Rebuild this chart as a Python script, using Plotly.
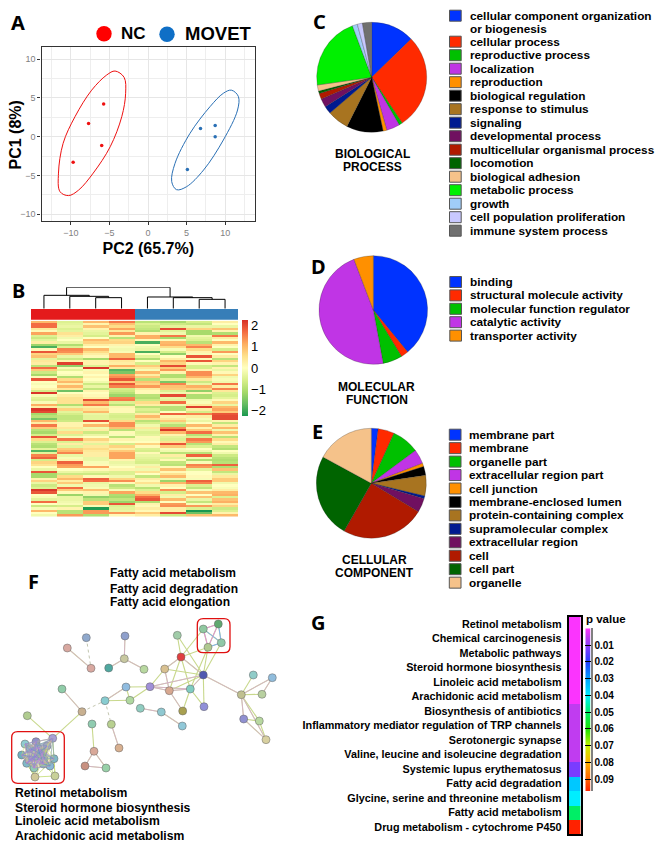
import plotly.graph_objects as go

W, H = 661, 847
FONT = "Liberation Sans"

# ---------- Panel A data ----------
NC_X = [-9.7, -7.7, -6.0, -5.75]
NC_Y = [-3.3, 1.7, -1.15, 4.2]
MOVET_X = [5.1, 6.8, 8.7, 8.7]
MOVET_Y = [-4.25, 1.05, 1.45, 0.0]
NC_ELL_X = [-4.27, -3.1, -2.9, -3.4, -4.9, -7.1, -9.0, -10.3, -11.4, -11.6, -11.0, -9.46, -7.3, -5.35, -4.27]
NC_ELL_Y = [8.47, 7.66, 5.6, 2.58, -1.3, -4.7, -6.9, -7.6, -7.1, -4.7, -0.86, 2.58, 6.0, 7.96, 8.47]
MV_ELL_X = [10.8, 11.7, 11.6, 9.76, 7.2, 5.0, 3.7, 3.07, 3.5, 5.44, 8.03, 9.76, 10.8]
MV_ELL_Y = [6.0, 5.2, 3.44, -0.43, -4.3, -6.45, -6.84, -5.8, -3.44, 0.43, 3.87, 5.6, 6.0]

# ---------- Panel B data: one list per sample column, rows top to bottom ----------
HM1 = [1.0,1.7,1.7,0.4,0.1,1.2,-0.5,-0.7,-0.4,0.3,-1.2,-1.9,0.1,1.9,0.7,0.9,-0.4,0.4,0.3,-0.9,1.7,0.8,-0.7,-1.1,0.1,1.9,0.0,-0.1,0.0,0.2,-0.6,2.2,-0.1,-0.4,-0.5,-0.1,1.1,0.3,2.2,2.0,-1.1,-0.9,-1.5,
       1.0,0.3,1.6,0.8,-0.9,-1.1,-0.6,1.9,0.6,-0.5,-0.9,-1.0,-0.4,-1.8,-0.4,1.5,1.8,-0.6,0.7,0.5,0.0,-0.3,1.9,-1.1,-1.1,0.2,0.7,-0.3,-0.7,-0.5,2.2,1.9,0.0,-0.1,-0.4,1.7,0.0,-0.7,-0.1,1.0,0.0,-0.2]
HM2 = [-0.5,-0.4,-0.3,-0.5,-0.4,0.5,0.3,-0.2,0.0,-0.3,-1.0,-0.5,1.5,1.4,0.8,-0.3,-0.7,0.2,2.1,-1.3,-0.1,-0.4,0.0,-0.1,-1.0,0.6,1.0,0.3,1.0,0.4,-1.6,0.0,0.3,0.5,0.5,0.5,-1.0,-0.3,0.7,-0.4,-0.6,-0.8,-0.8,
       -0.7,0.2,0.2,0.4,-0.3,0.6,-0.5,-0.1,1.6,-0.5,0.3,-0.4,0.8,1.0,1.5,-0.3,-0.1,0.2,1.8,1.3,1.2,0.0,-0.3,-0.7,0.6,1.0,0.3,0.8,-0.2,1.7,0.8,0.1,-1.2,-0.3,-0.3,-0.2,-0.1,-0.6,0.2,-0.9,-0.9,1.3]
HM3 = [1.0,0.2,0.9,0.2,-0.3,-0.4,-0.6,0.0,1.0,0.7,0.3,0.0,1.0,0.6,0.3,0.1,-1.1,0.2,0.2,-0.5,2.2,-0.1,0.2,0.0,0.2,0.0,-0.2,-0.7,-0.3,-0.8,0.2,0.0,0.1,0.3,2.0,1.0,1.6,0.3,0.5,1.0,-0.3,-0.4,-0.4,
       2.0,0.1,1.0,-0.2,0.3,-0.7,-0.3,0.0,0.7,0.3,-0.4,0.4,0.6,0.4,0.3,0.3,-0.3,-0.3,-0.1,0.1,1.2,0.1,-0.4,-0.7,0.1,1.8,1.7,-0.3,-0.2,-0.1,0.9,0.2,-0.2,-1.3,-0.9,0.8,0.8,-0.1,-2.2,1.3,1.3,-1.0]
HM4 = [1.6,0.9,0.6,1.2,0.4,1.3,0.2,-0.9,0.6,0.7,0.2,-0.1,-0.2,-0.1,1.0,1.0,1.8,0.4,0.3,1.1,0.4,-1.8,-1.5,1.2,1.4,1.9,0.8,1.9,1.5,-0.6,-0.7,-0.9,-1.2,1.5,1.6,-0.5,-0.9,0.2,0.1,0.1,-0.5,-0.6,-0.5,
       0.6,1.4,1.4,0.9,-0.9,0.1,-0.1,-0.9,0.2,0.0,-0.6,0.7,0.3,0.8,1.2,1.2,1.2,0.2,-0.3,-0.2,0.0,0.2,-0.5,-0.5,-0.2,0.7,1.4,0.1,-0.9,-0.7,-0.1,1.2,-1.0,-1.1,-0.8,-1.2,1.9,-0.5,-0.4,-0.3,1.3,0.1]
HM5 = [-0.9,-0.5,-0.7,-0.8,-1.0,0.2,1.1,1.1,0.1,-1.9,0.0,-0.2,-0.3,-1.9,0.0,-0.4,-1.0,0.0,-0.6,0.8,0.4,-0.1,1.0,0.3,0.8,-0.9,0.9,0.7,1.3,0.3,0.1,0.1,-0.9,-1.0,-0.7,0.6,0.3,-0.9,-0.5,-0.7,0.3,1.0,0.5,
       -0.9,-0.6,-0.2,0.4,-0.3,-0.5,-0.4,0.1,-0.1,0.0,0.7,0.1,-0.5,-0.6,0.1,-0.3,-0.4,-0.5,-0.6,-0.2,0.3,-0.2,0.5,0.0,-0.8,0.3,0.1,0.5,-0.2,-0.9,-0.5,0.6,1.1,1.7,1.9,-1.0,0.2,0.1,0.3,0.1,0.8,0.3]
HM6 = [-1.1,-0.7,-0.4,2.0,-0.4,-0.2,1.6,-1.1,0.1,1.0,1.1,0.6,-0.1,-0.6,-1.3,0.0,0.3,1.0,0.7,2.0,0.8,1.3,0.2,-1.0,-1.0,-0.4,-1.5,1.5,0.9,0.8,-0.5,-0.2,2.0,-0.3,-0.4,1.7,-0.2,-0.9,-0.9,0.0,1.8,0.2,0.4,
       0.8,-0.5,-0.9,1.4,2.2,1.0,0.2,-0.4,-0.5,0.5,1.9,0.8,-0.1,-0.2,-0.9,0.3,-0.4,0.1,-0.8,-0.9,0.1,0.9,0.1,0.5,1.0,-0.2,-1.2,1.0,0.2,0.0,1.4,-0.6,0.3,-0.2,1.0,0.0,1.3,1.4,0.3,0.3,2.0,-0.7]
HM7 = [-0.6,-0.8,-0.3,0.7,-1.1,-1.1,-0.2,-0.4,-0.5,-0.9,1.0,1.5,0.6,0.2,-0.1,1.9,0.1,1.9,0.1,-0.6,-0.6,0.2,1.4,1.4,1.0,0.4,-0.7,-0.3,1.1,0.7,-1.3,0.2,-1.0,-1.0,-0.2,-0.1,0.4,2.1,0.3,-0.6,1.5,0.3,-0.1,
       -0.3,0.0,1.0,0.2,0.8,1.7,-0.9,-0.5,1.6,1.3,-0.9,-0.5,0.0,-0.2,-0.9,1.8,-0.2,-1.0,-0.1,1.5,1.3,-0.4,0.0,0.0,0.1,-0.1,1.8,1.5,-0.5,-0.8,-0.1,0.9,0.0,0.9,-0.3,-0.8,-0.1,1.3,-0.5,-2.3,-1.6,0.9]
HM8 = [0.3,0.0,-0.3,0.9,0.2,-1.0,1.6,0.3,0.0,1.0,0.2,0.0,-0.6,1.3,0.0,0.3,-0.9,0.7,0.2,-0.8,0.2,-0.3,0.1,0.7,-0.2,-0.1,-0.2,1.6,0.3,1.5,0.4,-0.5,-0.6,-0.4,0.1,0.7,-0.3,1.0,1.2,0.8,1.9,2.0,2.0,
       0.2,-0.8,0.3,1.0,-0.2,0.9,0.2,-0.9,0.6,0.1,0.3,-0.8,-1.0,0.0,-0.2,-0.7,-0.9,-1.0,-0.9,1.8,-1.0,0.9,-0.8,-0.3,0.4,0.8,0.8,-0.2,0.0,-0.1,0.3,1.0,1.1,-0.5,0.9,1.1,0.3,0.7,-0.7,-0.5,0.2,1.0]
HM_GROUP = [0, 0, 0, 0, 1, 1, 1, 1]
HM_COLORS = ["#E41A1C", "#377EB8"]
HM_TICKS = [-2, -1, 0, 1, 2]
HM_SCALE = ["#1a9850", "#66bd63", "#a6d96a", "#d9ef8b", "#ffffbf", "#fee08b", "#fdae61", "#f46d43", "#d73027"]
# dendrogram merges: left child, right child, merge height (child ids: 1-8 leaves, 9+ earlier merges)
DEND_LEFT = [3, 2, 1, 7, 6, 5, 11]
DEND_RIGHT = [4, 9, 10, 8, 12, 13, 14]
DEND_HEIGHT = [33, 37, 40, 28, 33, 35, 64]

# ---------- Panels C / D / E data ----------
BP_LABELS = ["cellular component organization", "cellular process", "reproductive process", "localization",
             "reproduction", "biological regulation", "response to stimulus", "signaling", "developmental process",
             "multicellular organismal process", "locomotion", "biological adhesion", "metabolic process", "growth",
             "cell population proliferation", "immune system process"]
BP_VALUES = [12.7, 27.9, 1.0, 3.9, 1.1, 10.75, 6.3, 2.3, 2.5, 1.7, 0.7, 1.8, 21.5, 1.5, 1.5, 2.7]
BP_COLORS = ["#0033ff", "#ff2a00", "#00c000", "#c035e5", "#ff9000", "#000000", "#a87420", "#001a90", "#701060",
             "#b01a00", "#006400", "#f5c28a", "#00f000", "#a0cdf8", "#c8c8ff", "#707070"]
MF_LABELS = ["binding", "structural molecule activity", "molecular function regulator", "catalytic activity",
             "transporter activity"]
MF_VALUES = [39.1, 2.2, 5.8, 47.1, 5.8]
MF_COLORS = ["#0033ff", "#ff2a00", "#00c000", "#c035e5", "#ff9000"]
CC_LABELS = ["membrane part", "membrane", "organelle part", "extracellular region part", "cell junction",
             "membrane-enclosed lumen", "protein-containing complex", "supramolecular complex", "extracellular region",
             "cell", "cell part", "organelle"]
CC_VALUES = [2.0, 4.75, 8.05, 4.2, 1.0, 2.6, 6.0, 0.8, 4.1, 24.5, 24.6, 17.0]
CC_COLORS = ["#0033ff", "#ff2a00", "#00c000", "#c035e5", "#ff9000", "#000000", "#a87420", "#001a90", "#701060",
             "#b01a00", "#006400", "#f5c28a"]

# ---------- Panel F data ----------
NODE_X = [86.3,125,67.3,91,124.3,108.7,144,62,82,105,126,130,150,164.7,169.3,190.3,181,177.3,203.3,204,182.7,140.3,161.3,182.3,
          27.3,92,111.3,119,94,85,106,241.3,253.3,272.3,262,243.7,259.3,266,203.3,218.3,221.3,208,
          52.7,25,36,21.7,42.7,26.7,35,54,43.3,35,55,
          30,47,38,29,50,34,44,40]
NODE_Y = [77.7,76,88,108.3,98.7,108,109.3,129,151.7,140.7,127,140.3,126.7,109,130.7,129,97,75.3,115,146.7,151,148.3,152,166,
          155.7,164,164.3,188,191.3,206,208,134.7,115,117.7,134.3,159,161,179.7,69,64,82.7,87.3,
          178.3,184,181.7,195,192.7,203.3,196.7,198.7,204,217,216,
          189,186,188,200,206,208,199,194]
NODE_COLORS = ["#8fa8cc","#8fa0cc","#d8a8a0","#d8a8a0","#c8c8a0","#50a8a0","#b8d8a0","#90cca8","#c8b090","#88ccd0","#90bce0","#b0d8a0",
               "#a090d8","#d8c090","#d8a890","#80ccc0","#e04040","#a0cca8","#5058b0","#9090d8","#a8a050","#90ccc0","#90c8d0","#90c8d8",
               "#b0cc90","#90ccb0","#b8d090","#d8b090","#d8a898","#c89080","#98d0a8","#c0c090","#90ccc8","#90bcdc","#b8d0a0","#9090d0",
               "#b8d8a0","#d8d0a0","#90c8a0","#60a870","#90c8a8","#b0c890","#a8a0d8","#90ccd0","#9090c8","#70b0c0","#a0cc90","#80b8c8",
               "#90b0d0","#80b8c8","#80b0c8","#d0c898","#c8d098",
               "#80c0d0","#90a8d8","#a0b0d8","#88c0c0","#88b8d8","#90c8b8","#98b0d0","#a0c8a8"]
EDGES_SOLID = [(2,3),(1,4),(4,5),(4,6),(7,8),(8,42),(24,42),(9,10),(9,11),(10,11),(10,12),(11,12),(12,13),(12,14),(12,15),(12,18),
               (13,16),(13,18),(13,14),(14,16),(14,15),(14,18),(14,20),(15,16),(15,18),(15,20),(16,17),(16,18),(16,38),(16,41),
               (17,18),(18,19),(18,41),(18,40),(18,31),(15,41),(21,22),(22,23),(26,27),(28,29),(28,30),(29,30),(31,32),(31,33),
               (31,34),(33,34),(31,35),(31,36),(31,37),(35,36),(36,37),(35,37),(25,28),(15,19)]
EDGES_PINK = [(2,3),(1,4),(4,5),(4,6),(7,8),(9,10),(12,14),(12,15),(12,18),(13,14),(14,15),(14,20),(16,18),(16,13),(18,15),(18,31),
              (21,22),(22,23),(26,27),(28,29),(28,30),(29,30),(31,35),(31,37),(35,37),(31,33),(33,34)]
EDGES_DASHED = [(0,3),(8,9),(9,26)]
CLUSTER_UP = [38, 39, 40, 41]
CLUSTER_LOW = [42, 43, 44, 45, 46, 47, 48, 49, 50, 53, 54, 55, 56, 57, 58, 59, 60]
CLUSTER_LOW_RIM = [(51, 42), (51, 43), (51, 44), (51, 45), (51, 47), (51, 49), (51, 52), (52, 42), (52, 49), (52, 50), (52, 46)]
F_LABELS_TOP = ["Fatty acid metabolism", "Fatty acid degradation", "Fatty acid elongation"]
F_LABELS_BOTTOM = ["Retinol metabolism", "Steroid hormone biosynthesis", "Linoleic acid metabolism", "Arachidonic acid metabolism"]

# ---------- Panel G data ----------
PATHWAYS = ["Retinol metabolism", "Chemical carcinogenesis", "Metabolic pathways", "Steroid hormone biosynthesis",
            "Linoleic acid metabolism", "Arachidonic acid metabolism", "Biosynthesis of antibiotics",
            "Inflammatory mediator regulation of TRP channels", "Serotonergic synapse",
            "Valine, leucine and isoleucine degradation", "Systemic lupus erythematosus", "Fatty acid degradation",
            "Glycine, serine and threonine metabolism", "Fatty acid metabolism", "Drug metabolism - cytochrome P450"]
P_VALUES = [0.0003, 0.0003, 0.0003, 0.0003, 0.0003, 0.0003, 0.005, 0.005, 0.005, 0.005, 0.012, 0.035, 0.04, 0.05, 0.097]
P_LEVELS = [0.0, 0.005, 0.012, 0.02, 0.03, 0.035, 0.04, 0.05, 0.06, 0.07, 0.08, 0.09, 0.097]
P_COLORS = ["#ff33ff", "#c03cf0", "#7a3cff", "#2040ff", "#00a0ff", "#00c8ff", "#00eeff", "#00ee66", "#20e000", "#c8f000",
            "#ffb000", "#ff6000", "#ff2200"]
P_TICKS = [0.01, 0.02, 0.03, 0.04, 0.05, 0.06, 0.07, 0.08, 0.09]

# ---------- helpers ----------
fig = go.Figure()


def px(x):
    return x / W


def py(y):
    return 1 - y / H


def axes(n, x0, x1, y0, y1, xkw=None, ykw=None):
    blank = dict(visible=False, fixedrange=True)
    k = "" if n == 1 else str(n)
    xa = dict(blank, domain=[px(x0), px(x1)], anchor="y" + k)
    ya = dict(blank, domain=[py(y1), py(y0)], anchor="x" + k)
    xa.update(xkw or {})
    ya.update(ykw or {})
    fig.layout["xaxis" + k] = xa
    fig.layout["yaxis" + k] = ya
    return dict(xaxis="x" + k, yaxis="y" + k)


annotations, shapes = [], []


def label(x, y, text, size=11.8, bold=True, xanchor="left", family=FONT, color="black", angle=0):
    annotations.append(dict(x=px(x), y=py(y), xref="paper", yref="paper", text=text, showarrow=False, xanchor=xanchor,
                            yanchor="middle", align=xanchor, borderpad=0, textangle=angle,
                            font=dict(size=size, family=family, color=color, weight=700 if bold else 400)))


def swatch_legend(labels, colors, ys, swatch_x, text_x):
    for name, col, yc in zip(labels, colors, ys):
        shapes.append(dict(type="rect", xref="paper", yref="paper", x0=px(swatch_x), x1=px(swatch_x + 11.7),
                           y0=py(yc - 5.5), y1=py(yc + 5.5), fillcolor=col, line=dict(color="#555555", width=1)))
        label(text_x, yc, name)


def pie(values, colors, labels, cx, cy, r):
    fig.add_trace(go.Pie(values=values, labels=labels, sort=False, direction="clockwise", rotation=0,
                         marker=dict(colors=colors, line=dict(color="#222222", width=0.25)), textinfo="none",
                         hoverinfo="label+percent", showlegend=False,
                         domain=dict(x=[px(cx - r), px(cx + r)], y=[py(cy + r), py(cy - r)])))


# ---------- Panel A ----------
grid = dict(showgrid=True, gridcolor="#e6e6e6", gridwidth=1.2, zeroline=False, dtick=5, tick0=0, ticks="outside",
            ticklen=3, tickcolor="#333333", tickwidth=1, tickfont=dict(size=9, color="#7f7f7f", family=FONT),
            showline=True, linecolor="#333333", linewidth=1.2, mirror=True, visible=True,
            minor=dict(dtick=2.5, tick0=0, showgrid=True, gridcolor="#eeeeee", gridwidth=0.7, ticks=""))
ref = axes(1, 41.5, 255, 47, 221,
           dict(grid, range=[-13.8, 13.86], title=dict(text="PC2 (65.7%)", font=dict(size=16, family=FONT, color="black", weight=700), standoff=5)),
           dict(grid, range=[-10.88, 11.57]))
for ex, ey, sx, sy, col, nm in [(NC_ELL_X, NC_ELL_Y, NC_X, NC_Y, "#ee1111", "NC"),
                                (MV_ELL_X, MV_ELL_Y, MOVET_X, MOVET_Y, "#2a70b5", "MOVET")]:
    fig.add_trace(go.Scatter(x=ex, y=ey, mode="lines", line=dict(color=col, width=1, shape="spline", smoothing=1.0),
                             showlegend=False, hoverinfo="skip", **ref))
    fig.add_trace(go.Scatter(x=sx, y=sy, mode="markers", marker=dict(color=col, size=3.5), name=nm, showlegend=False, **ref))
for cx, cy, col in [(104, 33.7, "#ff0000"), (167, 34.2, "#0f6fc6")]:
    shapes.append(dict(type="circle", xref="paper", yref="paper", x0=px(cx - 7.7), x1=px(cx + 7.7), y0=py(cy + 7.7),
                       y1=py(cy - 7.7), fillcolor=col, line=dict(width=0)))
label(119.5, 33.5, "NC", size=17)
label(183.5, 33.5, "MOVET", size=18.5)
label(14.5, 135, "PC1 (8%)", size=16, xanchor="center", angle=-90)

# ---------- Panel B ----------
hm_columns = [HM1, HM2, HM3, HM4, HM5, HM6, HM7, HM8]
assert all(len(c) == 85 for c in hm_columns), [len(c) for c in hm_columns]
hm_rows = [list(r) for r in zip(*hm_columns)]
ref = axes(2, 31, 238, 320.7, 516.7, dict(range=[0.5, 8.5]), dict(range=[84.5, -0.5]))
fig.add_trace(go.Heatmap(z=hm_rows, x=list(range(1, 9)), y=list(range(85)), zmin=-2.25, zmax=2.25, colorscale=HM_SCALE,
                         colorbar=dict(x=px(242), xanchor="left", xpad=0, y=py(320), yanchor="top", ypad=0, len=96 / H,
                                       lenmode="fraction", thickness=6, outlinewidth=0, ticks="", tickvals=HM_TICKS,
                                       tickfont=dict(size=13, family=FONT, color="black")), **ref))
ref = axes(3, 31, 238, 309, 319.7, dict(range=[0.5, 8.5]), dict(range=[-0.5, 0.5]))
fig.add_trace(go.Heatmap(z=[HM_GROUP], x=list(range(1, 9)), y=[0], zmin=0, zmax=1, showscale=False,
                         colorscale=[[0, HM_COLORS[0]], [0.5, HM_COLORS[0]], [0.5, HM_COLORS[1]], [1, HM_COLORS[1]]], **ref))
ref = axes(4, 31, 238, 287.3, 308.7, dict(range=[0.5, 8.5]), dict(range=[0, 64]))
node_pos = {i: (float(i), 0.0) for i in range(1, 9)}
dx, dy = [], []
for i, (a, b, h) in enumerate(zip(DEND_LEFT, DEND_RIGHT, DEND_HEIGHT)):
    xa, ya = node_pos[a]
    xb, yb = node_pos[b]
    dx += [xa, xa, xb, xb, None]
    dy += [ya, h, h, yb, None]
    node_pos[9 + i] = ((xa + xb) / 2, h)
fig.add_trace(go.Scatter(x=dx, y=dy, mode="lines", line=dict(color="black", width=1), showlegend=False,
                         hoverinfo="skip", cliponaxis=False, **ref))

# ---------- Panels C, D, E ----------
pie(BP_VALUES, BP_COLORS, BP_LABELS, 371.7, 77.3, 55)
pie(MF_VALUES, MF_COLORS, MF_LABELS, 373.3, 310, 54.3)
pie(CC_VALUES, CC_COLORS, CC_LABELS, 371.3, 483.3, 55)
bp_ys = [15.7] + [41.7 + 13.5 * i for i in range(15)]
swatch_legend(BP_LABELS, BP_COLORS, bp_ys, 449.5, 468.7)
label(468.7, 29, "or biogenesis")
swatch_legend(MF_LABELS, MF_COLORS, [282 + 13.4 * i for i in range(5)], 449.8, 468.5)
swatch_legend(CC_LABELS, CC_COLORS, [434.7 + 13.45 * i for i in range(12)], 449.3, 467.7)
for x, y, t in [(372.7, 154, "BIOLOGICAL"), (372.7, 167, "PROCESS"), (376.7, 386.7, "MOLECULAR"), (376.7, 400, "FUNCTION"),
                (374, 560, "CELLULAR"), (374, 573, "COMPONENT")]:
    label(x, y, t, size=12, xanchor="center")

# ---------- Panel F ----------
ref = axes(5, 0, 290, 560, 847, dict(range=[0, 290]), dict(range=[287, 0]))


def edge_xy(pairs):
    xs, ys = [], []
    for a, b in pairs:
        xs += [NODE_X[a], NODE_X[b], None]
        ys += [NODE_Y[a], NODE_Y[b], None]
    return xs, ys


def clique(ids):
    return [(a, b) for i, a in enumerate(ids) for b in ids[i + 1:]]


for pairs, col, w, dash in [(EDGES_SOLID, "#c8d88c", 1.1, "solid"), (EDGES_PINK, "#d8a4dc", 0.7, "solid"),
                            (EDGES_DASHED, "#b4b89c", 0.8, "dot"), (clique(CLUSTER_UP), "#c8d88c", 1.2, "solid"),
                            (clique(CLUSTER_UP)[::2], "#e090d8", 1.0, "solid"), (clique(CLUSTER_UP)[1::2], "#80b0f0", 1.0, "solid"),
                            (CLUSTER_LOW_RIM, "#c8e080", 0.9, "solid")]:
    ex, ey = edge_xy(pairs)
    fig.add_trace(go.Scatter(x=ex, y=ey, mode="lines", line=dict(color=col, width=w, dash=dash), showlegend=False,
                             hoverinfo="skip", **ref))
fig.add_trace(go.Scatter(x=NODE_X, y=NODE_Y, mode="markers", showlegend=False, hoverinfo="skip",
                         marker=dict(size=8, color=NODE_COLORS, line=dict(color="rgba(100,100,100,0.7)", width=0.7)), **ref))
# the dense mesh of the lower cluster runs over its nodes
for pairs, col, w in [(clique(CLUSTER_LOW), "#d4e070", 0.7), (clique(CLUSTER_LOW)[::2], "#5078e0", 0.5),
                      (clique(CLUSTER_LOW)[1::3], "#d080e0", 0.4)]:
    ex, ey = edge_xy(pairs)
    fig.add_trace(go.Scatter(x=ex, y=ey, mode="lines", line=dict(color=col, width=w), opacity=0.75, showlegend=False,
                             hoverinfo="skip", **ref))
for x0, y0, x1, y1 in [(11.7, 171.7, 64.3, 223.3), (197.3, 58.7, 230, 92.7)]:
    r = 6
    shapes.append(dict(type="path", xref="x5", yref="y5", line=dict(color="#e01010", width=1.3),
                       path=f"M{x0 + r},{y0} L{x1 - r},{y0} Q{x1},{y0} {x1},{y0 + r} L{x1},{y1 - r} Q{x1},{y1} {x1 - r},{y1} "
                            f"L{x0 + r},{y1} Q{x0},{y1} {x0},{y1 - r} L{x0},{y0 + r} Q{x0},{y0} {x0 + r},{y0} Z"))
for t, y in zip(F_LABELS_TOP, [573.3, 589, 602]):
    label(109.3, y, t, size=12)
for t, y in zip(F_LABELS_BOTTOM, [792.7, 808, 820.7, 836]):
    label(13.7, y, t, size=12.2)

# ---------- Panel G ----------
p_scale = [[lv / P_LEVELS[-1], c] for lv, c in zip(P_LEVELS, P_COLORS)]
ref = axes(6, 568.7, 580.7, 616.7, 834.3,
           dict(range=[-0.5, 0.5], visible=True, showticklabels=False, ticks="", showline=True, linecolor="black", linewidth=2, mirror=True, showgrid=False, zeroline=False),
           dict(range=[14.5, -0.5], visible=True, tickmode="array", tickvals=list(range(15)), ticktext=PATHWAYS, ticks="", showgrid=False, zeroline=False,
                showline=True, linecolor="black", linewidth=2, mirror=True, ticklabelstandoff=3,
                tickfont=dict(size=10.8, family=FONT, color="black", weight=700)))
fig.add_trace(go.Heatmap(z=[[p] for p in P_VALUES], x=[0], y=list(range(15)), zmin=0, zmax=P_LEVELS[-1], colorscale=p_scale,
                         showscale=False, hoverinfo="skip", **ref))
ref = axes(7, 585.3, 590.7, 628.3, 791,
           dict(range=[-0.5, 0.5]),
           dict(range=[P_LEVELS[-1], 0], visible=True, side="right", tickmode="array", tickvals=P_TICKS, ticktext=[f"{t:.2f}" for t in P_TICKS],
                ticks="inside", ticklen=6, tickcolor="black", tickwidth=1, showgrid=False, zeroline=False, showline=True, linecolor="#808080", linewidth=1.5,
                tickfont=dict(size=10, family=FONT, color="black", weight=700)))
fig.add_trace(go.Heatmap(z=[[v] for v in P_LEVELS], x=[0], y=P_LEVELS, zmin=0, zmax=P_LEVELS[-1], colorscale=p_scale, zsmooth="best",
                         showscale=False, hoverinfo="skip", **ref))
label(585, 619, "p value", size=11.5)

# ---------- panel letters ----------
for t, x, y in [("A", 18.3, 22), ("B", 18, 290.7), ("C", 319, 21.7), ("D", 318, 266.7), ("E", 317.7, 431.7), ("F", 33, 581.7), ("G", 318.3, 622.7)]:
    label(x, y, t, size=20, family="Noto Sans", xanchor="center")

fig.update_layout(width=W, height=H, margin=dict(l=0, r=0, t=0, b=0, pad=0), paper_bgcolor="white", plot_bgcolor="white",
                  showlegend=False, annotations=annotations, shapes=shapes, font=dict(family=FONT))
fig.write_html("out.html", config=dict(displayModeBar=False), post_script="document.body.style.margin='0';")
